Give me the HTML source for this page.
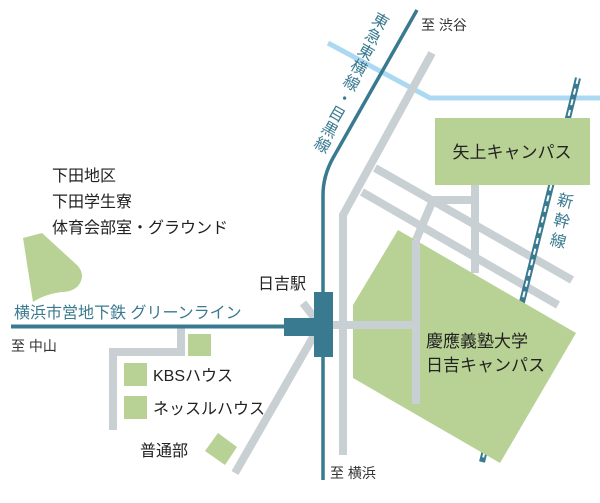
<!DOCTYPE html>
<html><head><meta charset="utf-8"><style>
body{margin:0;background:#fff}
svg text{font-family:"Liberation Sans","Noto Sans CJK JP",sans-serif}
</style></head><body>
<svg width="600" height="498" viewBox="0 0 600 498" xmlns="http://www.w3.org/2000/svg">
<polyline points="328,43 430,98 600,98" fill="none" stroke="#acd9f2" stroke-width="5"/>
<path d="M23,238 L42,233 L78,266 Q86,276 78,286 Q72,292 62,292 Q45,294 33,302 Z" fill="#b8d295"/>
<rect x="188" y="334" width="23" height="22" fill="#b8d295"/>
<rect x="124" y="363" width="23" height="23" fill="#b8d295"/>
<rect x="124" y="396" width="23" height="23" fill="#b8d295"/>
<polygon points="218,433 237,447 225,465 205,451" fill="#b8d295"/>
<g fill="none" stroke="#c9d0d4" stroke-width="8" stroke-linejoin="miter">
<polyline points="343,455 343,215 432,53"/>
<line x1="375" y1="168" x2="572" y2="280"/>
<line x1="362" y1="192" x2="558" y2="305"/>
<polyline points="433,200 475,200"/>
<polyline points="416,240 433,200"/>
<polyline points="303,303 320,325 235,473"/>
<polyline points="181,327 181,352 113,352 113,430"/>
</g>
<line x1="578" y1="78" x2="482" y2="462" stroke="#3a7a90" stroke-width="6"/>
<line x1="578" y1="78" x2="482" y2="462" stroke="#fff" stroke-width="2" stroke-dasharray="6,5"/>
<rect x="435" y="118" width="155" height="67" fill="#b8d295"/>
<polygon points="353,305 398,230 576,333 500,463 353,378" fill="#b8d295"/>
<g fill="none" stroke="#c9d0d4" stroke-width="8">
<line x1="475" y1="185" x2="475" y2="273"/>
<line x1="416" y1="240" x2="416" y2="404"/>
<line x1="333" y1="325" x2="416" y2="325"/>
</g>
<path d="M417,10 L333,158 Q323,176 323,195 L323,480" fill="none" stroke="#3a7a90" stroke-width="3.5"/>
<line x1="11" y1="326.5" x2="300" y2="326.5" stroke="#3a7a90" stroke-width="4"/>
<rect x="314" y="292" width="19" height="65" fill="#3a7a90"/>
<rect x="284" y="318" width="31" height="18" fill="#3a7a90"/>
<g fill="#333" font-size="14">
<text x="421" y="30">至 渋谷</text>
<text x="11" y="351">至 中山</text>
<text x="330" y="478">至 横浜</text>
</g>
<g fill="#222" font-size="16">
<text x="52" y="181">下田地区</text>
<text x="52" y="207">下田学生寮</text>
<text x="52" y="233">体育会部室・グラウンド</text>
<text x="258" y="289">日吉駅</text>
<text x="153" y="381">KBSハウス</text>
<text x="153" y="414">ネッスルハウス</text>
<text x="140" y="456">普通部</text>
</g>
<g fill="#222" font-size="17">
<text x="512" y="158" text-anchor="middle">矢上キャンパス</text>
<text x="426" y="347">慶應義塾大学</text>
<text x="426" y="371">日吉キャンパス</text>
</g>
<text x="14" y="318" fill="#3a7a90" font-size="16">横浜市営地下鉄 グリーンライン</text>
<g fill="#3a7a90" font-size="16" text-anchor="middle" dominant-baseline="central">
<text transform="translate(380,22) rotate(30)">東</text>
<text transform="translate(372.8,37.5) rotate(30)">急</text>
<text transform="translate(365.5,53) rotate(30)">東</text>
<text transform="translate(358.3,68.5) rotate(30)">横</text>
<text transform="translate(351,84) rotate(30)">線</text>
<text transform="translate(343.8,99.5) rotate(30)">・</text>
<text transform="translate(336.5,115) rotate(30)">目</text>
<text transform="translate(329.3,130.5) rotate(30)">黒</text>
<text transform="translate(322,146) rotate(30)">線</text>
<text transform="translate(565,202) rotate(14)">新</text>
<text transform="translate(561.5,222) rotate(14)">幹</text>
<text transform="translate(558,242) rotate(14)">線</text>
</g>
</svg>
</body></html>
